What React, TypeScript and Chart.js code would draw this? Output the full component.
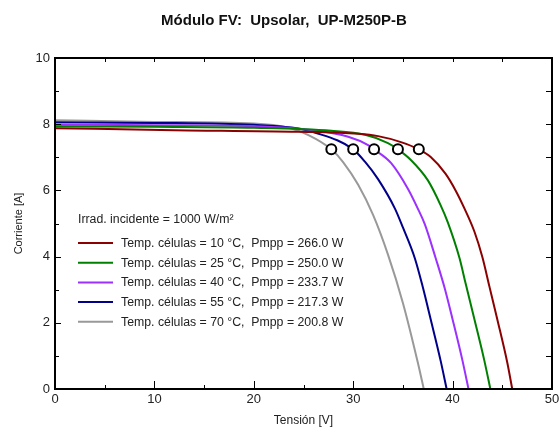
import React, { useEffect, useRef } from "react";
import { Chart, registerables } from "chart.js";

Chart.register(...registerables);

const TITLE = "Módulo FV:  Upsolar,  UP-M250P-B";
const X_TITLE = "Tensión [V]";
const Y_TITLE = "Corriente [A]";
const IRRAD_LABEL = "Irrad. incidente = 1000 W/m²";

const temps = [10, 25, 40, 55, 70];
const pmpp = [266.0, 250.0, 233.7, 217.3, 200.8];
const colors = ["#8b0000", "#008000", "#9b30ff", "#00008b", "#999999"];

// I-V curve readings (voltage V, current A)
const v10 = [0, 12, 24.5, 30.5, 32.5, 34.8, 36.6, 37.8, 39.3, 40.3, 41.2, 42.2, 43.0, 43.7, 44.5, 45.5, 46.0];
const i10 = [7.88, 7.82, 7.77, 7.71, 7.64, 7.46, 7.24, 7.01, 6.5, 6.0, 5.45, 4.75, 3.98, 3.1, 2.1, 0.8, 0];

const v25 = [0, 10, 20, 27.8, 31.2, 33.5, 34.5, 35.8, 37.5, 38.8, 39.5, 40.7, 41.3, 42.2, 43.2, 43.8];
const i25 = [7.94, 7.92, 7.89, 7.8, 7.68, 7.43, 7.24, 6.92, 6.31, 5.55, 5.05, 3.95, 3.2, 2.1, 0.85, 0];

const v40 = [0, 10, 20, 26.2, 29.5, 31.5, 32.1, 33.8, 35.5, 36.5, 37.2, 38.3, 39.2, 40.0, 41.0, 41.6];
const i40 = [7.99, 7.97, 7.94, 7.81, 7.62, 7.37, 7.24, 6.83, 6.05, 5.45, 4.98, 3.95, 3.05, 2.1, 0.85, 0];

const v55 = [0, 10, 20, 23.8, 26.2, 30.0, 31.2, 32.5, 34.2, 35.0, 36.2, 37.0, 37.8, 38.8, 39.4];
const i55 = [8.06, 8.04, 7.98, 7.9, 7.74, 7.24, 6.86, 6.34, 5.45, 4.88, 3.95, 3.08, 2.1, 0.85, 0];

const v70 = [0, 10, 20, 23.5, 25.5, 27.8, 29.0, 30.5, 32.0, 33.5, 35.0, 36.5, 37.1];
const i70 = [8.12, 8.07, 8.02, 7.89, 7.67, 7.24, 6.85, 6.17, 5.26, 4.06, 2.6, 0.8, 0];

// Maximum power points
const mppV = [36.6, 34.5, 32.1, 30.0, 27.8];
const mppI = [7.24, 7.24, 7.24, 7.24, 7.24];

const X_MIN = 0, X_MAX = 50, X_STEP = 10, X_MINOR = 5;
const Y_MIN = 0, Y_MAX = 10, Y_STEP = 2, Y_MINOR = 1;

const curvesV = [v10, v25, v40, v55, v70];
const curvesI = [i10, i25, i40, i55, i70];

const FONT = "'Liberation Sans', Arial, sans-serif";

export default function App() {
  const ref = useRef<HTMLCanvasElement | null>(null);

  useEffect(() => {
    document.body.style.margin = "0";
    const canvas = ref.current;
    if (!canvas) return;

    const lineSets = curvesV.map((vs, k) => ({
      type: "line" as const,
      label: `Temp. células = ${temps[k]} °C,  Pmpp = ${pmpp[k].toFixed(1)} W`,
      data: vs.map((v, j) => ({ x: v, y: curvesI[k][j] })),
      borderColor: colors[k],
      backgroundColor: colors[k],
      borderWidth: 2,
      pointRadius: 0,
      cubicInterpolationMode: "monotone" as const,
      order: 2,
    }));

    const mppSet = {
      type: "scatter" as const,
      label: "MPP",
      data: mppV.map((v, j) => ({ x: v, y: mppI[j] })),
      borderColor: "#000",
      backgroundColor: "#fff",
      borderWidth: 2,
      pointRadius: 5,
      pointStyle: "circle",
      order: 1,
    };

    const framePlugin = {
      id: "frame",
      afterDraw(chart: any) {
        const { ctx, chartArea: a, scales } = chart;
        const xs = scales.x, ys = scales.y;
        ctx.save();
        ctx.strokeStyle = "#000";
        ctx.lineWidth = 1;
        ctx.beginPath();
        for (let v = X_MIN; v <= X_MAX; v += X_MINOR) {
          const px = Math.round(xs.getPixelForValue(v)) + 0.5;
          const major = v % X_STEP === 0;
          ctx.moveTo(px, a.bottom);
          ctx.lineTo(px, a.bottom - (major ? 8 : 4));
          ctx.moveTo(px, a.top);
          ctx.lineTo(px, a.top + 4);
        }
        for (let v = Y_MIN; v <= Y_MAX; v += Y_MINOR) {
          const py = Math.round(ys.getPixelForValue(v)) + 0.5;
          const major = v % Y_STEP === 0;
          ctx.moveTo(a.left, py);
          ctx.lineTo(a.left + (major ? 6 : 4), py);
          ctx.moveTo(a.right, py);
          ctx.lineTo(a.right - 6, py);
        }
        ctx.stroke();
        ctx.lineWidth = 2;
        ctx.strokeRect(a.left, a.top, a.right - a.left, a.bottom - a.top);

        // title
        ctx.fillStyle = "#111";
        ctx.font = `bold 15px 'Liberation Sans Narrow', ${FONT}`;
        ctx.textAlign = "center";
        ctx.textBaseline = "middle";
        ctx.fillText(TITLE, 284, 21);

        // in-plot legend
        ctx.font = `12.3px ${FONT}`;
        ctx.textAlign = "left";
        ctx.fillStyle = "#222";
        ctx.fillText(IRRAD_LABEL, 78, 220);
        chart.data.datasets.forEach((ds: any, k: number) => {
          if (ds.type !== "line") return;
          const y = 243 + k * 19.7;
          ctx.strokeStyle = ds.borderColor;
          ctx.lineWidth = 2;
          ctx.beginPath();
          ctx.moveTo(78, y);
          ctx.lineTo(113, y);
          ctx.stroke();
          ctx.fillStyle = "#222";
          ctx.fillText(ds.label, 121, y + 0.5);
        });
        ctx.restore();
      },
    };

    const chart = new Chart(canvas, {
      type: "line",
      data: { datasets: [...lineSets, mppSet] as any },
      options: {
        animation: false,
        responsive: false,
        devicePixelRatio: 1,
        layout: { padding: { top: 58, right: 4, left: 0, bottom: 0 } },
        plugins: {
          legend: { display: false },
          title: { display: false },
          tooltip: { enabled: false },
        },
        scales: {
          x: {
            type: "linear",
            min: X_MIN,
            max: X_MAX,
            grid: { display: false, drawTicks: false },
            border: { display: false },
            ticks: {
              stepSize: X_STEP,
              color: "#222",
              font: { family: FONT, size: 13 },
              padding: 3,
              maxRotation: 0,
            },
            title: {
              display: true,
              text: X_TITLE,
              color: "#222",
              font: { family: FONT, size: 12 },
              padding: { top: 0, bottom: 0 },
            },
            afterFit(s: any) {
              s.height = 39;
              s.paddingLeft = 0;
              s.paddingRight = 0;
            },
          },
          y: {
            type: "linear",
            min: Y_MIN,
            max: Y_MAX,
            grid: { display: false, drawTicks: false },
            border: { display: false },
            ticks: {
              stepSize: Y_STEP,
              color: "#222",
              font: { family: FONT, size: 13 },
              padding: 5,
            },
            title: {
              display: true,
              text: Y_TITLE,
              color: "#222",
              font: { family: FONT, size: 11 },
              padding: { top: 12, bottom: 0 },
            },
            afterFit(s: any) {
              s.width = 55;
              s.paddingTop = 0;
              s.paddingBottom = 0;
            },
          },
        },
      },
      plugins: [framePlugin],
    });

    return () => chart.destroy();
  }, []);

  return (
    <div style={{ width: 559, height: 428, background: "#fff" }}>
      <canvas ref={ref} width={559} height={428} style={{ width: 559, height: 428, display: "block" }} />
    </div>
  );
}
